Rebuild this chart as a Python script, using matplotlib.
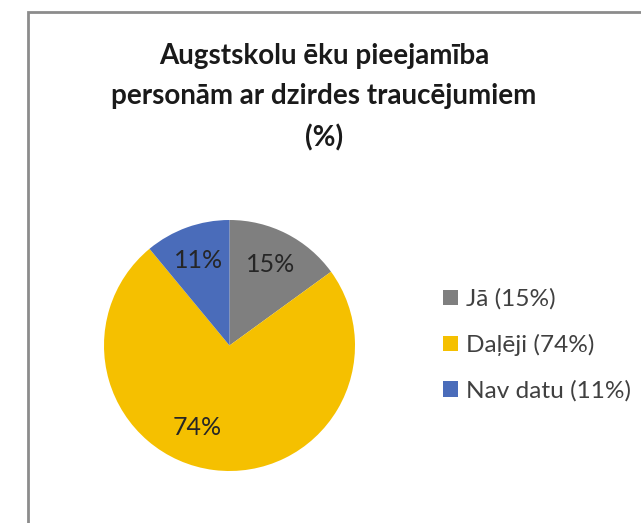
import matplotlib.pyplot as plt
from matplotlib.patches import Rectangle

# data
categories = ["Jā", "Daļēji", "Nav datu"]
values = [15, 74, 11]
colors = ["#7F7F7F", "#F5C000", "#4A6CBA"]
legend_labels = ["Jā (15%)", "Daļēji (74%)", "Nav datu (11%)"]
title = "Augstskolu ēku pieejamība\npersonām ar dzirdes traucējumiem\n(%)"

plt.rcParams['font.family'] = ['Lato', 'DejaVu Sans']

fig = plt.figure(figsize=(6.41, 5.23), dpi=100)

# chart frame (cut on the right and bottom like the screenshot)
fig.patches.append(Rectangle((28 / 641, -0.1), 1.2, 1.1 - 12 / 523,
                             transform=fig.transFigure, fill=False,
                             edgecolor="#8C8C8C", linewidth=2.0))

fig.text(324 / 641, 1 - 97 / 523, title, ha="center", va="center",
         fontsize=20, fontweight="bold", color="#1A1A1A", linespacing=1.67)

ax = fig.add_axes([104 / 641, 1 - 471 / 523, 251 / 641, 251 / 523])
wedges, texts, autotexts = ax.pie(values, colors=colors, startangle=90,
                                  counterclock=False, autopct="%d%%",
                                  pctdistance=0.72,
                                  textprops={"fontsize": 18, "color": "#262626"})
# Excel nudges the big slice label a bit to the left
autotexts[1].set_position((-0.26, -0.65))
ax.set_xlim(-1, 1)
ax.set_ylim(-1, 1)
ax.set_aspect("equal")

fig.legend(wedges, legend_labels, loc="center left",
           bbox_to_anchor=(443 / 641, 1 - 345 / 523), frameon=False,
           fontsize=17.6, handlelength=0.6, handleheight=0.6,
           handletextpad=0.35, labelspacing=0.98, labelcolor="#404040",
           borderpad=0, borderaxespad=0)

fig.savefig("out.png", dpi=100)
